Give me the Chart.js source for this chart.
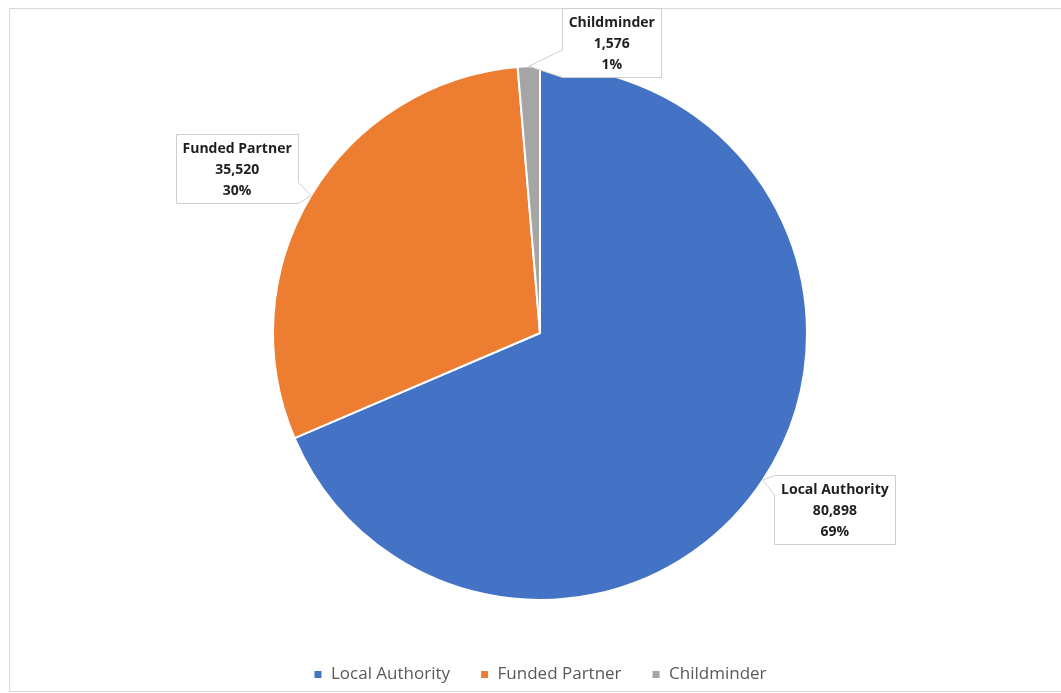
<!DOCTYPE html>
<html>
<head>
<meta charset="utf-8">
<script src="https://cdn.jsdelivr.net/npm/chart.js@4"></script>
<style>
  html, body { margin: 0; padding: 0; background: #fff; }
  #wrap { width: 1061px; height: 693px; position: relative; }
</style>
</head>
<body>
<div id="wrap"><canvas id="myChart"></canvas></div>
<script>
const categories = ['Local Authority', 'Funded Partner', 'Childminder'];
const counts = [80898, 35520, 1576];
const percentLabels = ['69%', '30%', '1%'];
const sliceColors = ['#4472C4', '#ED7D31', '#A5A5A5'];

// callout placement per slice: offset of the box centre from the slice's outer midpoint,
// which side the pointer leaves from, and where along that side it sits (0 = top, 1 = bottom)
const callouts = [
    { dx: 72, dy: 29, side: 'left', from: 0, to: 0.28 },
    { dx: -74, dy: -27, side: 'right', from: 0.7, to: 1 },
    { dx: 83, dy: -24, side: 'left', from: 0.6, to: 1 }
];

const frame = {
    id: 'frame',
    beforeDraw(chart) {
        const c = chart.ctx;
        c.save();
        c.strokeStyle = '#d9d9d9';
        c.lineWidth = 1;
        c.strokeRect(9.5, 8.5, 1070, 683);
        c.restore();
    }
};

function calloutPath(c, x0, y0, w, h, tip, o) {
    const x1 = x0 + w, y1 = y0 + h;
    c.beginPath();
    c.moveTo(x0, y0);
    c.lineTo(x1, y0);
    if (o.side === 'right') {
        c.lineTo(x1, y0 + o.from * h);
        c.lineTo(tip.x, tip.y);
        c.lineTo(x1, y0 + o.to * h);
    }
    c.lineTo(x1, y1);
    c.lineTo(x0, y1);
    if (o.side === 'left') {
        c.lineTo(x0, y0 + o.to * h);
        c.lineTo(tip.x, tip.y);
        c.lineTo(x0, y0 + o.from * h);
    }
    c.closePath();
}

const calloutLabels = {
    id: 'calloutLabels',
    afterDatasetsDraw(chart) {
        const c = chart.ctx;
        const meta = chart.getDatasetMeta(0);
        c.save();
        c.font = 'bold 14px "Open Sans"';
        c.textAlign = 'center';
        c.textBaseline = 'middle';
        meta.data.forEach((arc, i) => {
            const mid = (arc.startAngle + arc.endAngle) / 2;
            const tip = {
                x: arc.x + Math.cos(mid) * arc.outerRadius,
                y: arc.y + Math.sin(mid) * arc.outerRadius
            };
            const lines = [categories[i], counts[i].toLocaleString('en-US'), percentLabels[i]];
            const tw = Math.max(...lines.map(l => c.measureText(l).width));
            const lh = 21;
            const w = Math.round(tw + 13);
            const h = lh * 3 + 6;
            const o = callouts[i];
            const cx = tip.x + o.dx, cy = tip.y + o.dy;
            const x0 = Math.round(cx - w / 2) + 0.5, y0 = Math.round(cy - h / 2) + 0.5;
            calloutPath(c, x0, y0, w, h, tip, o);
            c.fillStyle = '#ffffff';
            c.fill();
            c.strokeStyle = '#cfcfcf';
            c.lineWidth = 1;
            c.stroke();
            c.fillStyle = '#1f1f1f';
            lines.forEach((l, k) => {
                c.fillText(l, cx, y0 + 3 + lh / 2 + k * lh + 1);
            });
        });
        c.restore();
    }
};

const ctx = document.getElementById('myChart').getContext('2d');

new Chart(ctx, {
    type: 'pie',
    data: {
        labels: categories,
        datasets: [{
            data: counts,
            backgroundColor: sliceColors,
            borderColor: '#ffffff',
            borderWidth: 2,
            radius: 267
        }]
    },
    options: {
        responsive: true,
        maintainAspectRatio: false,
        animation: false,
        layout: {
            padding: { top: 30, left: 19, right: 0, bottom: 0 }
        },
        plugins: {
            legend: {
                position: 'bottom',
                labels: {
                    boxWidth: 9,
                    boxHeight: 9,
                    padding: 30,
                    color: '#595959',
                    font: { family: '"Open Sans"', size: 17 }
                }
            },
            tooltip: { enabled: false }
        }
    },
    plugins: [frame, calloutLabels]
});
</script>
</body>
</html>
